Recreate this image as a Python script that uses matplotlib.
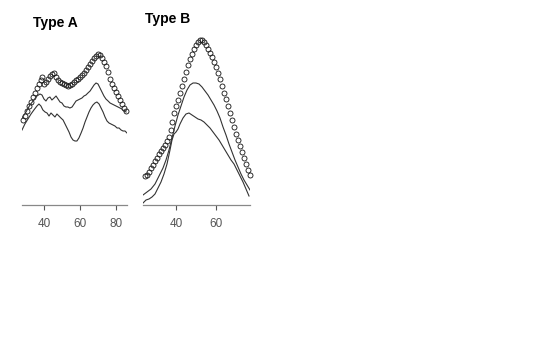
import matplotlib.pyplot as plt

plt.rcParams['font.family'] = ['Liberation Sans', 'DejaVu Sans']

# Type A: open circles plus two smooth curves
a_pts_x = [28.3, 29.4, 30.6, 31.7, 32.8, 33.9, 35.0, 36.1, 37.2, 38.3, 38.9, 40.0, 41.1, 42.2,
           43.3, 44.4, 45.6, 46.7, 47.8, 48.9, 50.0, 51.1, 52.2, 53.3, 54.4, 55.6, 56.7, 57.8,
           58.9, 60.0, 61.1, 62.2, 63.3, 64.4, 65.6, 66.7, 67.8, 68.9, 70.0, 71.1, 72.2, 73.3,
           74.4, 75.6, 76.7, 77.8, 78.9, 80.0, 81.1, 82.2, 83.3, 84.4, 85.6]
a_pts_y = [85, 89, 94, 99, 103, 108, 112, 117, 121, 125, 128, 121, 123, 126,
           129, 131, 132, 128, 125, 123, 122, 121, 120, 119, 120, 121, 123, 125,
           126, 128, 130, 132, 135, 138, 141, 144, 147, 149, 151, 150, 147, 143,
           139, 133, 126, 121, 117, 113, 109, 105, 101, 97, 94]

a_hi_x = [27.8, 30, 32.2, 34.4, 36.1, 37.8, 38.9, 40, 41.1, 42.2, 43.3, 44.4, 45.6, 46.7,
          47.8, 48.9, 50, 51.1, 52.2, 53.3, 54.4, 55.6, 56.7, 57.8, 58.9, 60, 61.1, 62.2,
          63.3, 64.4, 65.6, 66.7, 67.8, 68.9, 70, 71.1, 72.2, 73.3, 74.4, 75.6, 76.7, 77.8,
          78.9, 80, 81.1, 82.2, 83.3, 84.4, 85.6]
a_hi_y = [87, 93, 100, 105, 109, 111, 110, 106, 104, 107, 108, 105, 107, 109,
          106, 103, 102, 99, 98, 98, 97, 98, 101, 104, 105, 106, 107, 109,
          110, 112, 114, 117, 120, 122, 121, 117, 113, 109, 106, 104, 102, 101,
          100, 99, 98, 97, 96, 94, 93]

a_lo_x = [27.8, 29.4, 31.1, 32.8, 34.4, 36.1, 37.2, 38.3, 39.4, 40.6, 41.7, 42.8, 43.9, 45,
          46.1, 47.2, 48.3, 49.4, 50.6, 51.7, 52.8, 53.9, 55, 56.1, 57.2, 58.3, 59.4, 60.6,
          61.7, 62.8, 63.9, 65, 66.1, 67.2, 68.3, 69.4, 70.6, 71.7, 72.8, 73.9, 75, 76.1,
          77.2, 78.3, 79.4, 80.6, 81.7, 82.8, 83.9, 85, 86.1]
a_lo_y = [75, 81, 86, 91, 95, 99, 101, 99, 95, 93, 92, 89, 92, 90,
          88, 91, 89, 87, 85, 81, 77, 73, 68, 65, 64, 64, 67, 72,
          77, 83, 88, 93, 97, 100, 102, 103, 101, 97, 93, 88, 84, 82,
          81, 80, 79, 77, 77, 75, 74, 74, 72]

# Type B
b_pts_x = [24.5, 25.5, 26.5, 27.5, 28.5, 29.5, 30.5, 31.5, 32.5, 33.5, 34.5, 35.5, 36.5, 37.5,
           38, 39, 40, 41, 42, 43, 44, 45, 46, 47, 48, 49, 50, 51, 52, 53, 54, 55, 56, 57,
           58, 59, 60, 61, 62, 63, 64, 65, 66, 67, 68, 69, 70, 71, 72, 73, 74, 75, 76, 77]
b_pts_y = [29, 30, 33, 37, 40, 44, 47, 51, 54, 57, 60, 64, 68, 75,
           83, 92, 99, 105, 112, 119, 126, 133, 140, 146, 151, 156, 160, 163, 165, 165, 163, 160, 156, 152,
           148, 143, 138, 132, 126, 119, 112, 106, 99, 92, 85, 78, 71, 65, 59, 53, 47, 41, 35, 30]

b_hi_x = [23.5, 25.5, 27.5, 29.5, 31.5, 33.5, 35, 36.5, 38, 39.5, 41, 42.5, 44, 45.5, 47,
          48.5, 50, 51.5, 53, 54.5, 56, 57.5, 59, 60.5, 62, 63.5, 65, 66.5, 68, 69.5,
          71, 72.5, 74, 75.5, 77]
b_hi_y = [10, 13, 16, 21, 29, 37, 45, 55, 67, 79, 90, 99, 108, 115, 120,
          122, 122, 121, 118, 114, 110, 105, 100, 94, 87, 78, 70, 61, 53, 45,
          38, 31, 25, 20, 15]

b_lo_x = [23.5, 25, 26.5, 28, 29.5, 31, 32.5, 34, 35.5, 37, 38, 39, 40, 41, 42,
          43.5, 45, 46.5, 48, 49.5, 51, 52.5, 54, 55.5, 57, 58.5, 60, 61.5, 63, 64.5,
          66, 67.5, 69, 70.5, 72, 73.5, 75, 76.5]
b_lo_y = [2, 5, 6, 8, 11, 17, 23, 31, 41, 55, 65, 71, 73, 76, 81,
          87, 91, 92, 90, 88, 86, 85, 83, 80, 77, 73, 69, 65, 60, 55,
          50, 45, 41, 35, 29, 23, 16, 9]

fig = plt.figure(figsize=(5.4, 3.38), dpi=100)
W, H = 540, 338


def panel(left, right, xlim, ticks, pts, hi, lo):
    ax = fig.add_axes([left / W, (H - 205) / H, (right - left) / W, 175 / H])
    ax.plot(pts[0], pts[1], 'o', mfc='none', mec='#111111', ms=3.6, mew=0.6, clip_on=False)
    ax.plot(hi[0], hi[1], color='#333333', lw=0.8)
    ax.plot(lo[0], lo[1], color='#333333', lw=0.8)
    ax.set_xlim(xlim)
    ax.set_ylim(0, 175)
    for s in ['top', 'right', 'left']:
        ax.spines[s].set_visible(False)
    ax.spines['bottom'].set_color('#888888')
    ax.spines['bottom'].set_linewidth(0.9)
    ax.set_yticks([])
    ax.set_xticks(ticks)
    ax.tick_params(axis='x', length=3.6, width=0.8, color='#555555',
                   labelcolor='#555555', labelsize=8.5, pad=5.5)
    ax.patch.set_alpha(0)
    return ax


panel(22, 127, (27.8, 86.1), [40, 60, 80], (a_pts_x, a_pts_y), (a_hi_x, a_hi_y), (a_lo_x, a_lo_y))
panel(143, 250, (23.5, 77), [40, 60], (b_pts_x, b_pts_y), (b_hi_x, b_hi_y), (b_lo_x, b_lo_y))

fig.text(33 / W, 1 - 23 / H, 'Type A', fontsize=10, fontweight='bold', va='center', ha='left')
fig.text(145 / W, 1 - 19 / H, 'Type B', fontsize=10, fontweight='bold', va='center', ha='left')

fig.savefig('out.png', dpi=100)
